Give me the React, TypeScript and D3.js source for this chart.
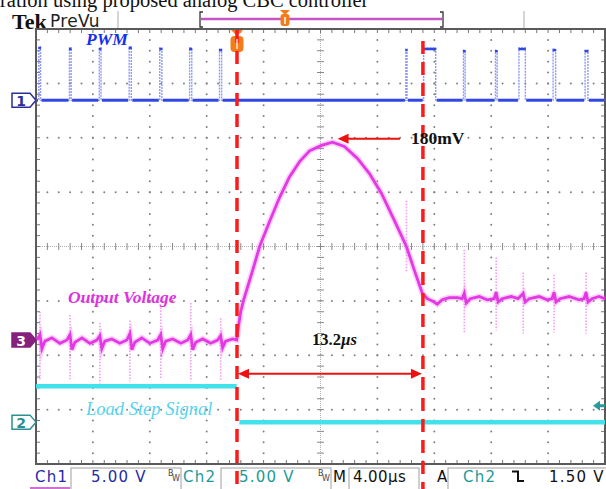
import React from 'react';
import * as d3 from 'd3';

// scope settings
const timeTicks = [-20, -16, -12, -8, -4, 0, 4, 8, 12, 16, 20]; // µs, 4.00µs/div
const divTicks = [-4, -3, -2, -1, 0, 1, 2, 3, 4];
const cursorTimes = [-5.87, 7.2]; // load step on / recovery

// Ch1 PWM (V, 5 V/div)
const pwmStart = [-19.8, -17.65, -15.55, -13.45, -11.3, -9.2, -7.1, 6.0, 7.25, 10.05, 12.3, 13.95, 16.35, 18.6];
const pwmWidth = [0.12, 0.12, 0.12, 0.15, 0.15, 0.15, 0.15, 0.08, 0.85, 0.12, 0.12, 0.45, 0.18, 0.2];
const pwmHigh = [4.9, 4.8, 4.8, 4.9, 4.8, 4.8, 4.7, 4.7, 4.8, 4.6, 4.6, 4.8, 4.7, 4.6];

// Ch3 output voltage (mV, 50 mV/div)
const outT = [
  -19.93, -19.72, -19.58, -19.37, -18.88, -18.32, -17.82, -17.61, -17.47, -17.26, -16.77, -16.21,
  -15.72, -15.51, -15.37, -15.16, -14.67, -14.11, -13.61, -13.4, -13.26, -13.05, -12.56, -12.0,
  -11.44, -11.23, -11.09, -10.88, -10.39, -9.82, -9.33, -9.12, -8.98, -8.77, -8.28, -7.72,
  -7.23, -7.02, -6.88, -6.67, -6.18, -5.89,
  -5.75, -5.61, -5.4, -5.12, -4.77, -4.28, -3.58, -2.88, -2.18, -1.47, -0.77, 0.07, 0.84, 1.68,
  2.6, 3.44, 4.28, 5.19, 6.04, 6.6, 7.16, 7.51, 7.86, 8.21, 8.56, 9.05,
  9.61, 9.96, 10.11, 10.25, 10.53, 11.16, 11.72, 12.21, 12.35, 12.49, 12.77, 13.4, 13.89, 14.25,
  14.39, 14.67, 15.37, 15.93, 16.28, 16.42, 16.56, 16.84, 17.47, 18.18, 18.53, 18.67, 18.81,
  19.09, 19.58, 20.0,
];
const outMv = [
  0, 5, -8, -1, 2, -3, 0, 5, -9, -2, 2, -3,
  0, 4, -8, -1, 1, -3, 0, 6, -9, -2, 2, -3,
  0, 5, -8, -1, 1, -3, 0, 5, -9, -2, 1, -3,
  0, 4, -7, -1, 1, 0,
  14, 26, 37, 49, 64, 86, 109, 131, 150, 164, 174, 179, 182, 178,
  167, 153, 135, 110, 86, 64, 43, 38, 36, 33, 37, 39,
  39, 38, 43, 34, 38, 40, 37, 38, 44, 35, 38, 40, 38, 43,
  35, 38, 40, 37, 38, 44, 35, 38, 40, 37, 38, 44, 35,
  38, 40, 38,
];
const outSpikeT = [-19.72, -17.61, -15.51, -13.4, -11.23, -9.12, -7.02, 6.04, 10.11, 12.35, 14.25, 16.42, 18.67];
const outSpikeHi = [26, 23, 16, 18, 30, 34, 20, 128, 83, 76, 62, 60, 62];
const outSpikeLo = [-37, -36, -40, -38, -35, -38, -38, 62, 6, 9, 6, 7, 6];

// Ch2 load step signal (V, 5 V/div)
const stepT = [-20, -5.89, NaN, -5.7, 20];
const stepV = [3.3, 3.3, NaN, 0, 0];

const W = 606;
const H = 489;
const GX0 = 36, GX1 = 605, GY0 = 29, GY1 = 464;

const x = d3.scaleLinear().domain([-20, 20]).range([GX0, GX1]);
const yDiv = d3.scaleLinear().domain([-4, 4]).range([GY1, GY0]);
const ch1 = (v: number) => yDiv(v / 5 + 2.69);
const ch2 = (v: number) => yDiv(v / 5 - 3.23);
const ch3 = (mv: number) => yDiv(mv / 50 - 1.72);

const serif = '"Liberation Serif", "Times New Roman", serif';
const sans = '"DejaVu Sans", sans-serif';

function Marker({ y, label, stroke, fill, color }: any) {
  const p = `M12,${y - 7} H30 L36,${y} L30,${y + 7} H12 Z`;
  return (
    <g>
      <path d={p} fill={fill} stroke={stroke} strokeWidth={1.5} />
      <text x={21} y={y + 5.5} textAnchor="middle" fontFamily={sans} fontSize={14} fontWeight="bold" fill={color}>{label}</text>
    </g>
  );
}

export default function App() {
  const minorX = d3.range(-20, 20.001, 0.8);
  const minorY = d3.range(-4, 4.001, 0.2);

  // PWM trace points
  const pwmPts: [number, number][] = [[-20, 0]];
  pwmStart.forEach((s, i) => {
    pwmPts.push([s, 0], [s, pwmHigh[i]], [s + pwmWidth[i], pwmHigh[i]], [s + pwmWidth[i], 0]);
  });
  pwmPts.push([20, 0]);
  const pwmLine = d3.line<[number, number]>().x(d => x(d[0])).y(d => ch1(d[1]));
  const lows: [number, number][] = [];
  let prev = -20;
  pwmStart.forEach((s, i) => { lows.push([prev, s]); prev = s + pwmWidth[i]; });
  lows.push([prev, 20]);

  const outLine = d3.line<number>().x(i => x(outT[i])).y(i => ch3(outMv[i]));
  const stepLine = d3.line<number>()
    .defined(i => !isNaN(stepT[i]))
    .x(i => x(stepT[i])).y(i => ch2(stepV[i]));

  const xa = x(cursorTimes[0]);
  const xb = x(cursorTimes[1]);
  const arrowY = ch3(185);
  const spanY = ch3(-31);

  return (
    <svg width={W} height={H} style={{ position: 'absolute', left: 0, top: 0, background: '#fff' }}>
      <rect width={W} height={H} fill="#fff" />
      {/* caption, clipped at top */}
      <text x={0} y={7} fontFamily={serif} fontSize={20.5} fill="#111">ration using proposed analog CBC controller</text>

      {/* top bar */}
      <text x={12} y={29} fontFamily={serif} fontSize={22} fontWeight="bold" fill="#111">Tek</text>
      <text x={50} y={27} fontFamily={sans} fontSize={17} fill="#222" letterSpacing={0.3}>PreVu</text>
      <line x1={118} x2={118} y1={11} y2={29} stroke="#aaa" />
      <line x1={524} x2={524} y1={11} y2={29} stroke="#aaa" />
      <path d="M203,12 H200 V27 H203" fill="none" stroke="#333" strokeWidth={1.3} />
      <path d="M440,12 H443 V27 H440" fill="none" stroke="#333" strokeWidth={1.3} />
      <line x1={201} x2={442} y1={19} y2={19} stroke="#c454c4" strokeWidth={2.5} />
      <path d="M280,10 L290,10 L285,15 Z" fill="#f27c1a" />
      <rect x={280.5} y={14} width={9} height={12} rx={3} fill="#f27c1a" />
      <line x1={285} x2={285} y1={17} y2={24} stroke="#fff" strokeWidth={1.5} />

      {/* graticule dots */}
      {timeTicks.filter(t => t !== -20 && t !== 20 && t !== 0).map(t =>
        minorY.map(d => <circle key={`v${t}_${d}`} cx={x(t)} cy={yDiv(d)} r={1} fill="#808080" />)
      )}
      {divTicks.filter(d => d !== -4 && d !== 4 && d !== 0).map(d =>
        minorX.map(t => <circle key={`h${d}_${t}`} cx={x(t)} cy={yDiv(d)} r={1} fill="#808080" />)
      )}
      {/* center cross */}
      <line x1={x(0)} x2={x(0)} y1={GY0} y2={GY1} stroke="#b0b0b0" strokeDasharray="1 1" />
      <line x1={GX0} x2={GX1} y1={yDiv(0)} y2={yDiv(0)} stroke="#b0b0b0" strokeDasharray="1 1" />
      {minorY.map(d => <line key={`cy${d}`} x1={x(0) - 3.5} x2={x(0) + 3.5} y1={yDiv(d)} y2={yDiv(d)} stroke="#888" />)}
      {minorX.map(t => <line key={`cx${t}`} x1={x(t)} x2={x(t)} y1={yDiv(0) - 3.5} y2={yDiv(0) + 3.5} stroke="#888" />)}
      {/* border ticks */}
      {minorX.map(t => (
        <g key={`bt${t}`}>
          <line x1={x(t)} x2={x(t)} y1={GY0} y2={GY0 + 4} stroke="#777" />
          <line x1={x(t)} x2={x(t)} y1={GY1 - 4} y2={GY1} stroke="#777" />
        </g>
      ))}
      {minorY.map(d => (
        <g key={`bl${d}`}>
          <line x1={GX0} x2={GX0 + 4} y1={yDiv(d)} y2={yDiv(d)} stroke="#777" />
          <line x1={GX1 - 4} x2={GX1} y1={yDiv(d)} y2={yDiv(d)} stroke="#777" />
        </g>
      ))}
      <rect x={GX0} y={GY0} width={GX1 - GX0} height={GY1 - GY0} fill="none" stroke="#5a5a5a" strokeWidth={2} />

      {/* Ch2 load step */}
      <path d={stepLine(d3.range(stepT.length)) || ''} fill="none" stroke="#42e2ea" strokeWidth={4.5} />

      {/* Ch1 PWM */}
      <path d={pwmLine(pwmPts) || ''} fill="none" stroke="#7080f4" strokeWidth={1.4} strokeDasharray="2 1" opacity={0.8} />
      {lows.map(([a, b], i) => (
        <line key={`lo${i}`} x1={x(a) + 1} x2={x(b) - 1} y1={ch1(0)} y2={ch1(0)} stroke="#3046e6" strokeWidth={3} />
      ))}
      {pwmStart.map((s, i) => (
        <line key={`hi${i}`} x1={x(s) - 0.5} x2={x(s + pwmWidth[i]) + 0.5} y1={ch1(pwmHigh[i]) + 1} y2={ch1(pwmHigh[i]) + 1} stroke="#3046e6" strokeWidth={2.5} />
      ))}

      {/* Ch3 output voltage */}
      {outSpikeT.map((t, i) => (
        <line key={`sp${i}`} x1={x(t)} x2={x(t)} y1={ch3(outSpikeHi[i])} y2={ch3(outSpikeLo[i])}
          stroke="#ef7cef" strokeWidth={1.6} strokeDasharray="1.5 1.5" opacity={0.75} />
      ))}
      <path d={outLine(d3.range(outT.length)) || ''} fill="none" stroke="#ee66ee" strokeWidth={6} opacity={0.3} />
      <path d={outLine(d3.range(outT.length)) || ''} fill="none" stroke="#e438e4" strokeWidth={2.8} />

      {/* trigger marker */}
      <path d={`M${xa - 6},${GY0 + 1} L${xa + 6},${GY0 + 1} L${xa},${GY0 + 7} Z`} fill="#f27c1a" />
      <rect x={xa - 6.5} y={GY0 + 7} width={13} height={16} rx={4} fill="#f27c1a" />

      {/* cursors */}
      <line x1={xa} x2={xa} y1={GY0 + 1} y2={H} stroke="#ff1a1a" strokeWidth={3.5} strokeDasharray="13 8" />
      <line x1={xb} x2={xb} y1={GY0 + 12} y2={H} stroke="#ff1a1a" strokeWidth={3.5} strokeDasharray="13 8" />
      <line x1={xa} x2={xa} y1={GY0 + 10} y2={GY0 + 20} stroke="#fff" strokeWidth={1.2} />

      {/* 180mV annotation */}
      <line x1={x(1.6)} x2={400} y1={arrowY} y2={arrowY} stroke="#ee1111" strokeWidth={2} />
      <path d={`M${x(1.2)},${arrowY} l11,-5 v10 Z`} fill="#ee1111" />
      <text x={411} y={arrowY + 5} fontFamily={serif} fontSize={17.5} fontWeight="bold" fill="#111">180mV</text>

      {/* 13.2µs annotation */}
      <line x1={xa + 8} x2={xb - 8} y1={spanY} y2={spanY} stroke="#ee1111" strokeWidth={2} />
      <path d={`M${xa + 1},${spanY} l11,-5 v10 Z`} fill="#ee1111" />
      <path d={`M${xb - 1},${spanY} l-11,-5 v10 Z`} fill="#ee1111" />
      <text x={312} y={345} fontFamily={serif} fontSize={16.5} fontWeight="bold" fill="#111">
        13.2<tspan fontStyle="italic">µs</tspan>
      </text>

      {/* trace labels */}
      <text x={86} y={45} fontFamily={serif} fontSize={17.5} fontWeight="bold" fontStyle="italic" fill="#1430ee">PWM</text>
      <text x={68} y={303} fontFamily={serif} fontSize={17.5} fontWeight="bold" fontStyle="italic" fill="#e030e0">Output Voltage</text>
      <text x={86} y={415} fontFamily={serif} fontSize={18.5} fontStyle="italic" fill="#55d4f0">Load Step Signal</text>

      {/* channel markers */}
      <Marker y={ch1(0)} label="1" stroke="#28309a" fill="#fff" color="#28309a" />
      <Marker y={ch3(0)} label="3" stroke="#86207e" fill="#86207e" color="#fff" />
      <Marker y={ch2(0)} label="2" stroke="#2a9090" fill="#fff" color="#2a9090" />
      <path d={`M593,${ch2(1.5)} l7,-5 v3.5 h5 v3 h-5 v3.5 Z`} fill="#2a9a9a" />

      {/* readout bar */}
      <g fontFamily={sans} fontSize={15} letterSpacing={1.2}>
        <text x={35} y={482} fill="#1e2aa8">Ch1</text>
        <rect x={71} y={468} width={110} height={30} fill="none" stroke="#a0a0a0" />
        <text x={91} y={482} fill="#1e2aa8">5.00 V</text>
        <text x={168} y={476} fontSize={8} letterSpacing={0} fill="#444">B</text>
        <text x={172} y={481} fontSize={8} letterSpacing={0} fill="#444">W</text>
        <text x={183} y={482} fill="#1a9a9a">Ch2</text>
        <rect x={221} y={468} width={110} height={30} fill="none" stroke="#a0a0a0" />
        <text x={239} y={482} fill="#1a9a9a">5.00 V</text>
        <text x={318} y={476} fontSize={8} letterSpacing={0} fill="#444">B</text>
        <text x={322} y={481} fontSize={8} letterSpacing={0} fill="#444">W</text>
        <text x={333} y={482} fill="#111">M</text>
        <rect x={349} y={468} width={70} height={30} fill="none" stroke="#a0a0a0" />
        <text x={353} y={482} fill="#111" letterSpacing={0.4}>4.00µs</text>
        <text x={437} y={482} fill="#111">A</text>
        <rect x={448} y={468} width={170} height={30} fill="none" stroke="#a0a0a0" />
        <text x={463} y={482} fill="#1a9a9a">Ch2</text>
        <path d="M512,471.5 H518 V481 H524" fill="none" stroke="#111" strokeWidth={2} />
        <text x={549} y={482} fill="#111">1.50 V</text>
      </g>
      <line x1={30} x2={70} y1={488} y2={488} stroke="#c040c0" strokeWidth={1.5} />
    </svg>
  );
}
